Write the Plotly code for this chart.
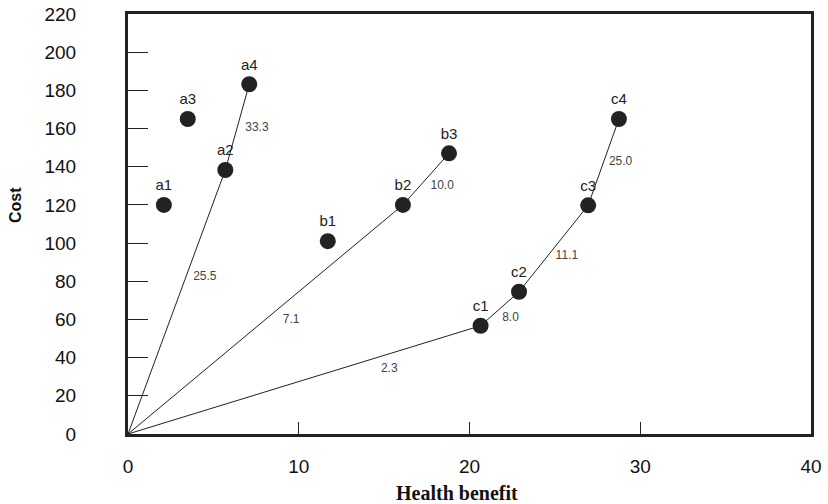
import plotly.graph_objects as go

# Points
pt_names = ["a1", "a2", "a3", "a4", "b1", "b2", "b3", "c1", "c2", "c3", "c4"]
pt_x = [2.1, 5.7, 3.5, 7.1, 11.7, 16.1, 18.8, 20.65, 22.9, 26.95, 28.75]
pt_y = [120, 138.3, 165, 183.2, 101, 120, 147, 56.7, 74.5, 119.8, 165]

# Frontier lines (from origin)
line_a_x = [0, 5.7, 7.1]
line_a_y = [0, 138.3, 183.2]
line_b_x = [0, 16.1, 18.8]
line_b_y = [0, 120, 147]
line_c_x = [0, 20.65, 22.9, 26.95, 28.75]
line_c_y = [0, 56.7, 74.5, 119.8, 165]

# Slope (ICER) labels
slope_text = ["25.5", "33.3", "7.1", "10.0", "2.3", "8.0", "11.1", "25.0"]
slope_x = [4.5, 7.55, 9.55, 18.4, 15.3, 22.4, 25.7, 28.85]
slope_y = [82, 160.5, 59.5, 130, 34, 61, 93, 142.3]

fig = go.Figure()
for lx, ly in [(line_a_x, line_a_y), (line_b_x, line_b_y), (line_c_x, line_c_y)]:
    fig.add_trace(go.Scatter(x=lx, y=ly, mode="lines",
                             line=dict(color="#222222", width=1), showlegend=False,
                             hoverinfo="skip"))

fig.add_trace(go.Scatter(x=pt_x, y=pt_y, mode="markers+text", text=pt_names,
                         textposition="top center",
                         textfont=dict(family="Liberation Sans, Arial", size=15, color="#222222"),
                         marker=dict(color="#222222", size=16), showlegend=False))

fig.add_trace(go.Scatter(x=slope_x, y=slope_y, mode="text", text=slope_text,
                         textfont=dict(family="Liberation Sans, Arial", size=12, color="#444444"),
                         showlegend=False))

fig.update_layout(
    width=828, height=504,
    margin=dict(l=128, r=17, t=14, b=70, autoexpand=False),
    paper_bgcolor="white", plot_bgcolor="white",
    xaxis=dict(range=[0, 40], tickvals=[0, 10, 20, 30, 40], ticks="inside", ticklen=12,
               tickwidth=1, tickcolor="#222222", automargin=False,
               showgrid=False, zeroline=False, showline=True, linewidth=3, linecolor="#222222",
               mirror=True,
               tickfont=dict(family="Liberation Sans, Arial", size=19, color="#111111"),
               ticklabelstandoff=13),
    yaxis=dict(range=[0, 220], tickvals=list(range(0, 221, 20)), ticks="inside", ticklen=20,
               tickwidth=1, tickcolor="#222222", automargin=False,
               showgrid=False, zeroline=False, showline=True, linewidth=3, linecolor="#222222",
               mirror=True,
               tickfont=dict(family="Liberation Sans, Arial", size=19, color="#111111"),
               ticklabelstandoff=45),
    annotations=[
        dict(text="<b>Health benefit</b>", xref="paper", yref="paper",
             x=(457 - 128) / 683, y=(434 - 493) / 420, xanchor="center", yanchor="middle",
             showarrow=False,
             font=dict(family="Liberation Serif, Times New Roman", size=20, color="#111111")),
        dict(text="<b>Cost</b>", xref="paper", yref="paper", textangle=-90,
             x=(15 - 128) / 683, y=(434 - 205) / 420, xanchor="center", yanchor="middle",
             showarrow=False,
             font=dict(family="Liberation Sans, Arial", size=16, color="#111111")),
    ],
)

fig.write_html("out.html")
